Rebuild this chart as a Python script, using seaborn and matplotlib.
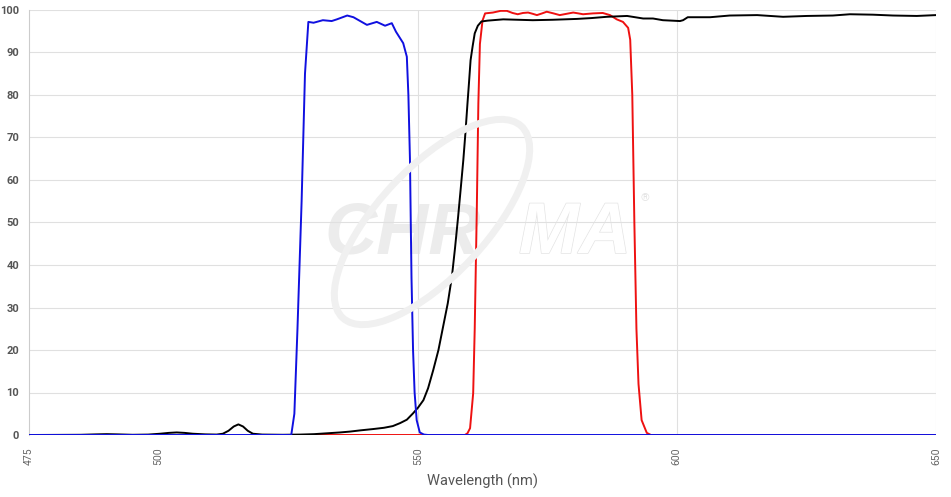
import seaborn as sns
import matplotlib.pyplot as plt
import pandas as pd
from matplotlib.patches import Ellipse
from matplotlib.transforms import IdentityTransform
import matplotlib.patheffects as pe

# transmission curves (wavelength nm, % transmission)
wl_black = [475, 485, 488, 490, 492, 495, 498, 500.3, 502, 503.5, 505, 506.6, 509, 511.2, 512.4,
            513.5, 514.5, 515.4, 516.3, 517.2, 518.2, 520, 524, 527.3, 530, 532.5, 535, 536.9,
            539, 541.4, 543.5, 545.2, 546.6, 547.9, 549.1, 550.1, 551.1, 552.0, 553.0, 554.0,
            554.9, 555.8, 556.6, 557.2, 557.8, 558.3, 558.8, 559.2, 559.6, 559.9, 560.2, 560.6,
            561.0, 561.6, 562.3, 563.5, 566.5, 572.2, 576, 580.7, 583.5, 586.5, 590.4, 593.5,
            595.4, 597.3, 600.6, 601.2, 602.1, 606.4, 610.2, 615.5, 620.5, 625.1, 630.1, 633.4,
            637.8, 641.7, 646.3, 650]
t_black = [0, 0.05, 0.15, 0.2, 0.15, 0.05, 0.1, 0.3, 0.5, 0.6, 0.5, 0.3, 0.15, 0.1, 0.3,
           1.0, 2.0, 2.5, 2.0, 1.0, 0.3, 0.1, 0.05, 0.1, 0.2, 0.4, 0.6, 0.8,
           1.1, 1.4, 1.7, 2.1, 2.8, 3.6, 5.1, 6.5, 8.2, 11, 15.3, 20,
           25.5, 31, 37.3, 44, 51.4, 58, 64.7, 71, 78, 83, 88.2, 91.5,
           94.5, 96.3, 97.3, 97.5, 97.8, 97.6, 97.7, 97.9, 98.1, 98.4, 98.6, 98.0,
           98.0, 97.6, 97.4, 97.6, 98.3, 98.3, 98.7, 98.8, 98.4, 98.6, 98.7, 99.0,
           98.9, 98.7, 98.6, 98.8]

wl_blue = [475, 525.6, 526.2, 526.8, 527.2, 527.6, 528.25, 528.9, 529.9, 531.7, 533.4, 534.4,
           536.4, 537.6, 540.2, 542.1, 543.7, 545.0, 545.8, 547.2, 547.9, 548.2, 548.5, 548.8,
           549.1, 549.4, 549.8, 550.4, 551.2, 552.0, 650]
t_blue = [0, 0, 5, 25, 40, 55, 85, 97.2, 97.0, 97.6, 97.4, 97.8,
          98.7, 98.3, 96.5, 97.2, 96.3, 96.9, 94.9, 92.2, 89.0, 80, 65, 37,
          20, 10, 3.5, 0.6, 0.1, 0, 0]

wl_red = [526, 559.1, 559.6, 560.1, 560.7, 561.0, 561.4, 561.7, 562.0, 562.5, 563.0, 564.5,
          566, 567.2, 568.3, 569.3, 570.3, 571.3, 572.2, 573.0, 574.0, 574.9, 576.2, 577.4,
          578.7, 580.0, 581.0, 581.9, 583.8, 585.7, 587.1, 588.4, 589.6, 590.6, 591.0, 591.4,
          591.8, 592.2, 592.6, 593.2, 594.2, 595.0, 650]
t_red = [0, 0, 0.4, 1.6, 9.8, 25, 53, 78, 92, 97.5, 99.2, 99.4,
         99.8, 99.8, 99.3, 99.0, 99.3, 99.4, 99.1, 98.8, 99.2, 99.6, 99.2, 98.8,
         99.1, 99.4, 99.2, 99.0, 99.2, 99.3, 98.8, 97.8, 97.2, 95.8, 93, 80,
         50, 25, 12, 3.5, 0.5, 0, 0]

x_ticks = [475, 500, 550, 600, 650]
y_ticks = list(range(0, 101, 10))

sns.set_style('white')
plt.rcParams['font.family'] = ['Roboto', 'DejaVu Sans']

fig = plt.figure(figsize=(9.51, 4.97), dpi=100)
ax = fig.add_axes([29 / 951, 62 / 497, 907 / 951, 425 / 497])

# watermark
ax.text(532.0, 42.8, 'CHR', fontsize=52, fontweight='bold', fontstyle='italic',
        color='#ececec', family='Liberation Sans', zorder=0.5)
ax.text(569.5, 42.8, 'MA', fontsize=52, fontweight='bold', fontstyle='italic',
        color='white', family='Liberation Sans', zorder=0.5,
        path_effects=[pe.withStroke(linewidth=1.0, foreground='#e4e4e4')])
ax.text(593.0, 55, '®', fontsize=8, color='#e4e4e4', zorder=0.5)
fig.patches.append(Ellipse((432, 497 - 222), 262, 108, angle=47, fill=False,
                           edgecolor='#f0f0f0', lw=5, transform=IdentityTransform(), zorder=0.4))

for y in y_ticks[1:]:
    ax.axhline(y, color='#e0e0e0', lw=0.8, zorder=1)
for x in [550, 600, 650]:
    ax.axvline(x, color='#e0e0e0', lw=0.8, zorder=1)

sns.lineplot(x=wl_red, y=t_red, ax=ax, color='#ee1111', linewidth=1.4, zorder=3)
sns.lineplot(x=wl_black, y=t_black, ax=ax, color='black', linewidth=1.4, zorder=4)
sns.lineplot(x=wl_blue, y=t_blue, ax=ax, color='#1010e0', linewidth=1.4, zorder=5)

ax.set_xlim(475, 650)
ax.set_ylim(0, 100)
ax.set_xticks(x_ticks)
ax.set_yticks(y_ticks)
ax.set_xticklabels([str(v) for v in x_ticks], rotation=90, color='#666666', fontsize=7.5)
ax.set_yticklabels([str(v) for v in y_ticks], color='#555555', fontsize=8, fontweight='bold')
ax.tick_params(axis='x', length=4, color='#cccccc', pad=5)
ax.tick_params(axis='y', length=0, pad=7)
ax.set_xlabel('Wavelength (nm)', fontsize=10.5, color='#555555', labelpad=6)
ax.set_ylabel('')

for side in ['top', 'right', 'bottom']:
    ax.spines[side].set_visible(False)
ax.spines['left'].set_color('#cccccc')
ax.spines['left'].set_linewidth(0.8)

fig.savefig('out.png', dpi=100)
